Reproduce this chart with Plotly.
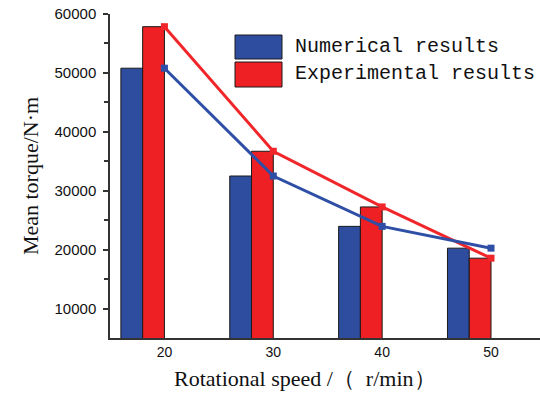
import plotly.graph_objects as go

speeds = [20, 30, 40, 50]
numerical = [50800, 32500, 23950, 20250]
experimental = [57850, 36700, 27250, 18550]

series_names = ["Numerical results", "Experimental results"]
y_ticks = [10000, 20000, 30000, 40000, 50000, 60000]
y_minor = [15000, 25000, 35000, 45000, 55000]

bar_colors = ["#2e4d9f", "#ee2024"]
line_colors = ["#2f4fa6", "#f0262a"]

fig = go.Figure()

# bars (offset to the left of each tick)
fig.add_trace(go.Bar(x=speeds, y=numerical, width=2, offset=-4,
                     marker=dict(color=bar_colors[0], line=dict(color="#1a1a1a", width=1)),
                     showlegend=False))
fig.add_trace(go.Bar(x=speeds, y=experimental, width=2, offset=-2,
                     marker=dict(color=bar_colors[1], line=dict(color="#1a1a1a", width=1)),
                     showlegend=False))

# lines
fig.add_trace(go.Scatter(x=speeds, y=experimental, mode="lines+markers",
                         line=dict(color=line_colors[1], width=3),
                         marker=dict(symbol="square", size=7, color=line_colors[1]),
                         cliponaxis=False, showlegend=False))
fig.add_trace(go.Scatter(x=speeds, y=numerical, mode="lines+markers",
                         line=dict(color=line_colors[0], width=3),
                         marker=dict(symbol="square", size=7, color=line_colors[0]),
                         cliponaxis=False, showlegend=False))

# hand-drawn legend (swatches + text)
L, R, T, B = 110, 540, 14, 338
def px(xp):
    return (xp - L) / (R - L)
def py(yp):
    return (B - yp) / (B - T)

swatches = [(35, 59), (62, 87)]
text_y = [46.5, 73.5]
for i in range(2):
    fig.add_shape(type="rect", xref="paper", yref="paper",
                  x0=px(235), x1=px(282), y0=py(swatches[i][1]), y1=py(swatches[i][0]),
                  fillcolor=bar_colors[i], line=dict(color="#1a1a1a", width=1))
    fig.add_annotation(xref="paper", yref="paper", x=px(293), y=py(text_y[i]),
                       xanchor="left", yanchor="middle", showarrow=False,
                       text=series_names[i],
                       font=dict(family="Liberation Mono", size=20, color="#111"))

# x-axis title
fig.add_annotation(xref="paper", yref="paper", x=px(305), y=py(378),
                   xanchor="center", yanchor="middle", showarrow=False,
                   text="Rotational speed /（  r/min）",
                   font=dict(family="Liberation Serif", size=22, color="#111"))

fig.update_layout(
    width=540, height=393,
    margin=dict(l=L, r=540 - R, t=T, b=393 - B),
    paper_bgcolor="white", plot_bgcolor="white",
    barmode="overlay",
    font=dict(family="Liberation Sans", color="#111"),
)
fig.update_xaxes(range=[15, 54.5], tickvals=speeds, ticktext=[str(s) for s in speeds],
                 showgrid=False, zeroline=False, showline=True, linecolor="#333", linewidth=1.5,
                 ticks="", tickfont=dict(family="Liberation Sans", size=14, color="#111"))
fig.update_yaxes(range=[5000, 60000], tickvals=y_ticks, ticktext=[str(v) for v in y_ticks],
                 showgrid=False, zeroline=False, showline=True, linecolor="#333", linewidth=1.5,
                 ticks="outside", ticklen=5, tickwidth=1.5, tickcolor="#333",
                 ticklabelstandoff=4,
                 minor=dict(tickvals=y_minor, ticks="outside",
                            ticklen=4, tickwidth=1.5, tickcolor="#333"),
                 tickfont=dict(family="Liberation Sans", size=15, color="#111"),
                 title=dict(text="Mean torque/N·m",
                            font=dict(family="Liberation Serif", size=22, color="#111"),
                            standoff=10))

fig.write_html("out.html")
